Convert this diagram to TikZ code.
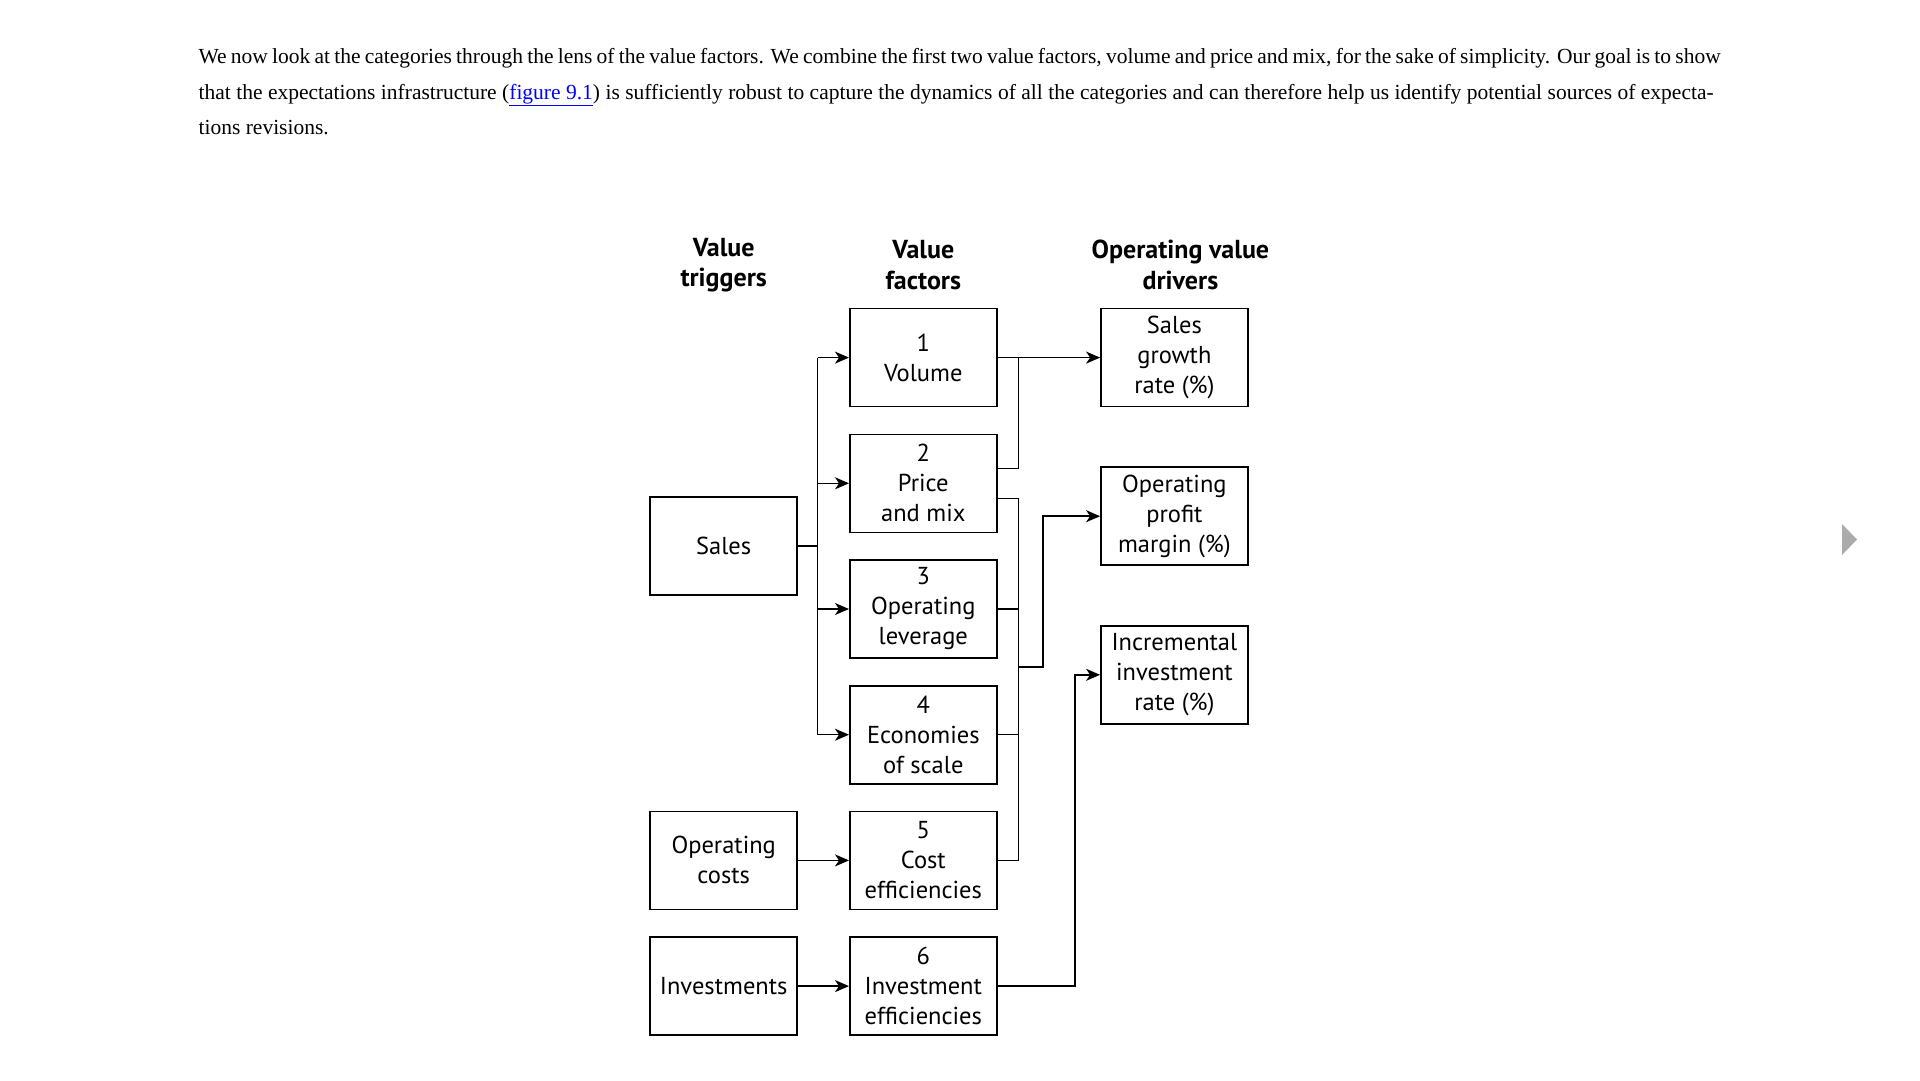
\documentclass[tikz,border=0pt]{standalone}
\usepackage{fontspec}
\setmainfont{Liberation Serif}
\newfontfamily\diagfont{PT Sans}
\usetikzlibrary{arrows.meta,positioning,calc}

\begin{document}
\begin{tikzpicture}[x=1pt, y=-1pt, >={Stealth[length=14pt,width=12pt,inset=4pt]}, node distance=26.1pt,
    box/.style={draw, line width=1.6pt, minimum width=147pt, minimum height=98pt, align=center, inner sep=2pt, font=\diagfont\fontsize{24.5}{30}\selectfont},
    head/.style={align=center, inner sep=0pt, font=\diagfont\bfseries\fontsize{26}{30.5}\selectfont},
    link/.style={line width=1.5pt},
    para/.style={anchor=base west, inner sep=0pt, font=\fontsize{21.5}{26}\selectfont}]
    \useasboundingbox (0,0) rectangle (1920,1080);
    \fill[white] (0,0) rectangle (1920,1080);
    % Text above the figure
    \node[para] (line1) at (198.4,63.7) {\makebox[1522pt][s]{We now look at the categories through the lens of the value factors. We combine the first two value factors, volume and price and mix, for the sake of simplicity. Our goal is to show}};
    \node[para] (line2) at (198.4,99.2) {\makebox[1515pt][s]{that the expectations infrastructure (\textcolor{blue}{\underline{figure 9.1}}) is sufficiently robust to capture the dynamics of all the categories and can therefore help us identify potential sources of expecta-}};
    \node[para] (line3) at (198.4,134.7) {tions revisions.};
    % Page arrow
    \fill[gray!66] (1842,524) -- (1857,539.5) -- (1842,555) -- cycle;
    % Headings
    \node[head] (htrig) at (723.7,265) {Value\\triggers};
    \node[head] (hfact) at (923.3,265) {Value\\factors};
    \node[head] (hdriv) at (1180.4,265) {Operating value\\drivers};
    % Value factors
    \node[box] (f1) at (923.3,357.6) {1\\Volume};
    \node[box, below=of f1] (f2) {2\\Price\\and mix};
    \node[box, below=of f2] (f3) {3\\Operating\\leverage};
    \node[box, below=of f3] (f4) {4\\Economies\\of scale};
    \node[box, below=of f4] (f5) {5\\Cost\\efficiencies};
    \node[box, below=of f5] (f6) {6\\Investment\\efficiencies};
    % Value triggers
    \node[box, left=51pt of f2, yshift=-62.8pt] (sales) {Sales};
    \node[box, left=51pt of f5] (opc) {Operating\\costs};
    \node[box, left=51pt of f6] (inv) {Investments};
    % Value drivers
    \node[box, right=102.5pt of f1] (d1) {Sales\\growth\\rate (\%)};
    \node[box, below=59pt of d1] (d2) {Operating\\profit\\margin (\%)};
    \node[box, below=59pt of d2] (d3) {Incremental\\investment\\rate (\%)};
    % Sales to factors 1--4
    \draw[link] (sales.east) -- ++(19.5,0) coordinate (st);
    \draw[link] (st |- f1) -- (st |- f4);
    \foreach \f in {f1,f2,f3,f4}
      \draw[link,->] (st |- \f) -- (\f.west);
    \draw[link,->] (opc) -- (f5);
    \draw[link,->] (inv) -- (f6);
    % Factors to drivers
    \coordinate (rt) at ($(f1.east)+(21,0)$);
    \draw[link,->] (f1.east) -- (d1.west);
    \draw[link] ([yshift=15pt]f2.east) -| (rt |- f1);
    \draw[link] ([yshift=-15pt]f2.east) -| (rt |- f5) -- (f5.east);
    \draw[link] (f3.east) -- (rt |- f3);
    \draw[link] (f4.east) -- (rt |- f4);
    \path (rt |- f3.south) ++(0,8) coordinate (jn);
    \draw[link,->] (jn) -- ++(24.4,0) |- (d2.west);
    \draw[link,->] (f6.east) -- ++(77.2,0) |- (d3.west);
\end{tikzpicture}
\end{document}
